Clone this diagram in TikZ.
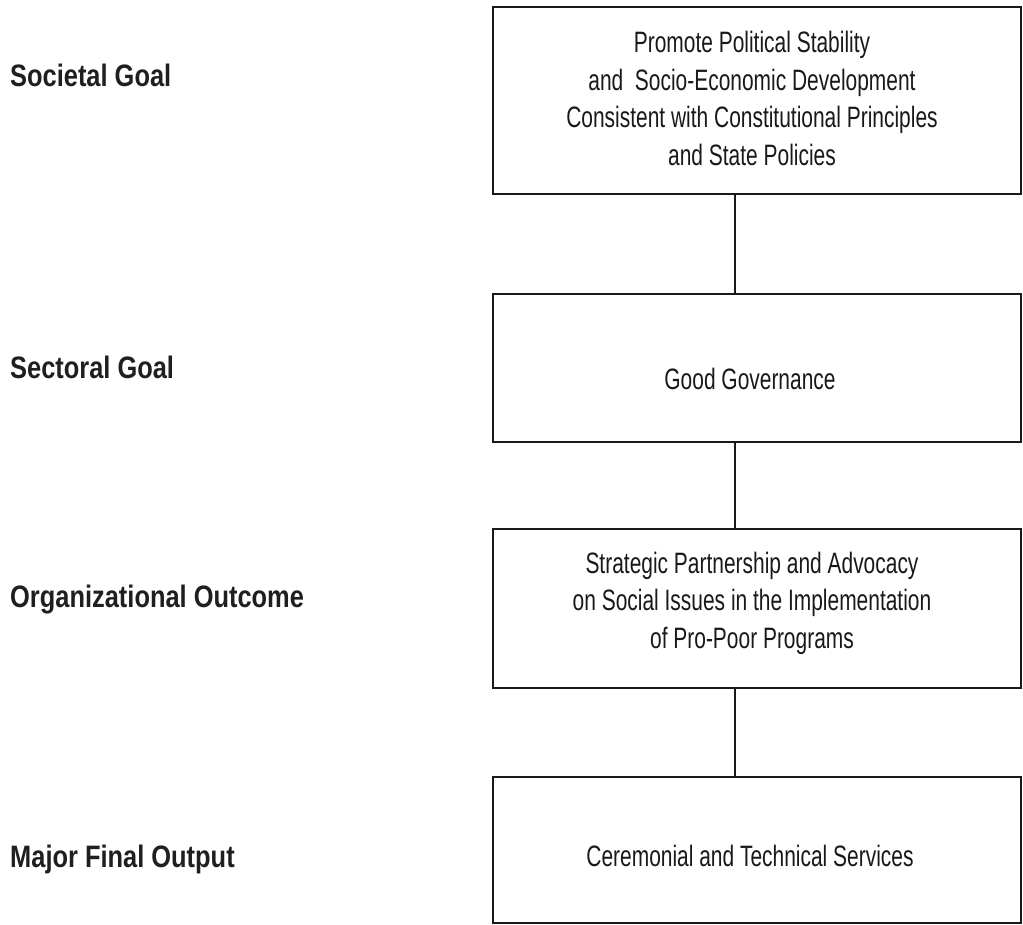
\documentclass[tikz,border=0pt]{standalone}
\usepackage{fontspec}
\setmainfont{Liberation Sans}
\newfontfamily\boxfont[FakeStretch=0.71]{Liberation Sans}
\newfontfamily\labfont[FakeStretch=0.82]{Liberation Sans}
\begin{document}
\begin{tikzpicture}[x=1pt,y=-1pt,
  stage/.style={draw=black!90, line width=1.7pt, minimum width=528pt, inner sep=0pt},
  boxtext/.style={font=\boxfont\fontsize{29.5}{37.6}\selectfont, align=center, inner sep=0pt, text=black!90},
  leveltext/.style={font=\labfont\bfseries\fontsize{31}{36}\selectfont, anchor=base west, inner sep=0pt, text=black!88},
  link/.style={draw=black!90, line width=1.3pt}]
\useasboundingbox (0,0) rectangle (1023,925);
% boxes
\node[stage, minimum height=187pt] (b1) at (757,100.5) {};
\node[stage, minimum height=148pt] (b2) at (757,368) {};
\node[stage, minimum height=159pt] (b3) at (757,608.5) {};
\node[stage, minimum height=146pt] (b4) at (757,850) {};
% box texts
\node[boxtext] (t1) at (752,98.5) {Promote Political Stability\\and\ \ Socio-Economic Development\\Consistent with Constitutional Principles\\and State Policies};
\node[boxtext] (t2) at (750,379) {Good Governance};
\node[boxtext] (t3) at (752,603) {Strategic Partnership and Advocacy\\on Social Issues in the Implementation\\of Pro-Poor Programs};
\node[boxtext] (t4) at (750,856) {Ceremonial and Technical Services};
% connectors
\coordinate (ax) at (735,0);
\draw[link] (b1.south -| ax) -- (b2.north -| ax);
\draw[link] (b2.south -| ax) -- (b3.north -| ax);
\draw[link] (b3.south -| ax) -- (b4.north -| ax);
% level labels
\node[leveltext] (l1) at (10,87) {Societal Goal};
\node[leveltext] (l2) at (10,378) {Sectoral Goal};
\node[leveltext] (l3) at (10,607) {Organizational Outcome};
\node[leveltext] (l4) at (10,867) {Major Final Output};
\end{tikzpicture}
\end{document}
